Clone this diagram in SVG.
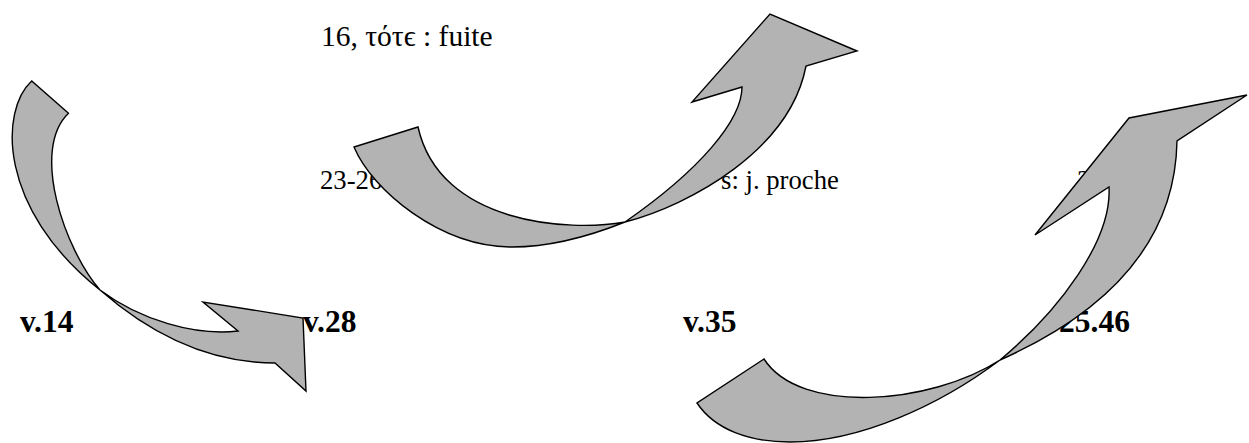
<svg xmlns="http://www.w3.org/2000/svg" width="1249" height="443" viewBox="0 0 1249 443">
<style>
.lbl{font-family:"Liberation Serif","Times New Roman",serif;fill:#000}
.big{font-size:29.5px}
.mid{font-size:26.7px}
.bold{font-size:31.5px;font-weight:bold}
.arrow{fill:#b3b3b3;stroke:#000;stroke-width:1.4;stroke-linejoin:miter}
</style>
<rect width="1249" height="443" fill="#fff"/>
<g id="labels">
<g id="t-tote"><text class="lbl big" x="321" y="46">16, τότϵ : fuite</text></g>
<g id="t-2326"><text class="lbl mid" x="320" y="189">23-26</text></g>
<g id="t-proche"><text class="lbl mid" x="721" y="189">s: j. proche</text></g>
<g id="t-2"><text class="lbl mid" x="1077" y="189">2</text></g>
<g id="n-v14"><text class="lbl bold" x="20" y="332">v.14</text></g>
<g id="n-v28"><text class="lbl bold" x="303" y="332">v.28</text></g>
<g id="n-v35"><text class="lbl bold" x="683" y="332">v.35</text></g>
<g id="n-2546"><text class="lbl bold" x="1059" y="332">25.46</text></g>
</g>
<g id="connectors">
<path id="arrow1" class="arrow" d="M31.7,81 C0,110 -3,208 100,290 C140,325 200,363 275,363 L306,391 L303,318 L203,302 L238,331 C195,336 140,320 100,290 C65,250 30,150 68.5,113.3 Z"/>
<path id="arrow2" class="arrow" d="M354,147 C372,190 440,247 512,247 C550,247 590,236 625,222 C690,205 790,150 806,66 L857,51 L770,14 L692,102 L742,87 C742,120 700,170 625,222 C570,232 440,225 418,127 Z"/>
<path id="arrow3" class="arrow" d="M697,403 C715,430 750,442 790,442 C860,442 940,405 1000,360 C1090,320 1175,255 1177,141 L1247,95 L1129,118 L1035,235 L1109,187 C1112,240 1060,310 1000,360 C930,405 800,415 764,359 Z"/>
</g>
</svg>
